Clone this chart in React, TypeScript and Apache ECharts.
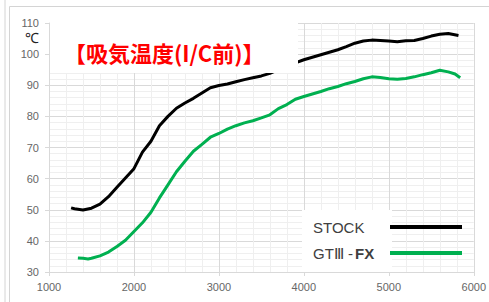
import React, { useEffect, useRef } from "react";
import * as echarts from "echarts";

const stockRpm = [1260, 1300, 1400, 1500, 1600, 1700, 1800, 1900, 2000, 2100, 2200, 2300, 2400, 2500, 2600, 2700, 2800, 2900, 3000, 3100, 3200, 3300, 3400, 3500, 3600, 3700, 3800, 3900, 4000, 4100, 4200, 4300, 4400, 4500, 4600, 4700, 4800, 4900, 5000, 5100, 5200, 5300, 5400, 5500, 5600, 5700, 5820];
const stockTemp = [50.6, 50.3, 49.9, 50.5, 51.8, 54.2, 57.2, 60.2, 63.2, 68.5, 72.0, 77.0, 80.0, 82.6, 84.3, 85.8, 87.5, 89.2, 89.9, 90.4, 91.1, 91.8, 92.4, 93.0, 93.8, 95.0, 96.2, 97.2, 98.2, 99.0, 99.8, 100.6, 101.4, 102.4, 103.5, 104.2, 104.5, 104.4, 104.2, 104.0, 104.3, 104.4, 105.0, 105.8, 106.4, 106.6, 106.0];

const gtRpm = [1340, 1400, 1460, 1500, 1600, 1700, 1800, 1900, 2000, 2100, 2200, 2300, 2400, 2500, 2600, 2700, 2800, 2900, 3000, 3100, 3200, 3300, 3400, 3500, 3600, 3700, 3800, 3900, 4000, 4100, 4200, 4300, 4400, 4500, 4600, 4700, 4800, 4900, 5000, 5100, 5200, 5300, 5400, 5500, 5600, 5700, 5780, 5840];
const gtTemp = [34.5, 34.4, 34.2, 34.4, 35.2, 36.4, 38.2, 40.2, 43.0, 45.8, 49.2, 53.8, 58.0, 62.2, 65.6, 68.8, 71.0, 73.3, 74.5, 75.9, 77.0, 77.9, 78.6, 79.5, 80.5, 82.5, 83.8, 85.5, 86.4, 87.2, 88.0, 88.9, 89.6, 90.5, 91.2, 92.1, 92.7, 92.5, 92.1, 91.9, 92.2, 92.7, 93.4, 94.0, 94.8, 94.3, 93.6, 92.4];

const seriesNames = ["STOCK", "GTⅢ-FX"];
const titleText = "【吸気温度(I/C前)】";
const unitText = "℃";

export default function App() {
  const ref = useRef<HTMLDivElement>(null);
  useEffect(() => {
    document.body.style.margin = "0";
    const chart = echarts.init(ref.current!, undefined, { renderer: "svg" });
    const labelFont = "'Liberation Sans', Arial, sans-serif";
    const legendText = { fontSize: 15, color: "#404040", fontFamily: labelFont, lineHeight: 18, align: "left" };
    chart.setOption({
      animation: false,
      backgroundColor: "#ffffff",
      title: {
        text: titleText,
        left: 59,
        top: 36,
        z: 100,
        textStyle: {
          color: "#ff0000",
          fontSize: 22,
          fontWeight: "bold",
          fontFamily: "'Noto Sans CJK JP', sans-serif",
        },
      },
      legend: {
        data: seriesNames,
        orient: "vertical",
        align: "right",
        left: 313,
        top: 218,
        padding: 0,
        itemGap: 8,
        itemWidth: 72,
        itemHeight: 4,
        icon: "rect",
        z: 100,
        formatter: (name: string) =>
          name === "STOCK" ? "{s|STOCK}" : "{g|GTⅢ -}{b|FX}",
        textStyle: {
          lineHeight: 18,
          rich: {
            s: { ...legendText, width: 72 },
            g: { ...legendText, width: 42 },
            b: { ...legendText, width: 30, fontWeight: "bold" },
          },
        },
      },
      grid: { left: 49, right: 10, top: 23, bottom: 30 },
      xAxis: {
        type: "value",
        min: 1000,
        max: 6000,
        interval: 1000,
        axisLine: { show: true, lineStyle: { color: "#d9d9d9", width: 1 } },
        axisTick: { show: true, length: 4, lineStyle: { color: "#d9d9d9" } },
        axisLabel: {
          color: "#666666",
          fontSize: 11,
          fontFamily: labelFont,
          margin: 9,
          formatter: (v: number) => String(v),
        },
        splitLine: { show: true, lineStyle: { color: "#d9d9d9", width: 1 } },
        minorTick: { show: false, splitNumber: 5 },
        minorSplitLine: { show: true, lineStyle: { color: "#efefef", width: 1 } },
      },
      yAxis: {
        type: "value",
        min: 30,
        max: 110,
        interval: 10,
        axisLine: { show: true, lineStyle: { color: "#d9d9d9", width: 1 } },
        axisTick: { show: true, length: 4, lineStyle: { color: "#d9d9d9" } },
        axisLabel: {
          color: "#666666",
          fontSize: 11,
          fontFamily: labelFont,
          margin: 10,
          formatter: (v: number) => String(v),
        },
        splitLine: { show: true, lineStyle: { color: "#d9d9d9", width: 1 } },
        minorTick: { show: false, splitNumber: 5 },
        minorSplitLine: { show: true, lineStyle: { color: "#efefef", width: 1 } },
      },
      graphic: [
        { type: "line", z: 0, shape: { x1: 5, y1: 0, x2: 5, y2: 302 }, style: { stroke: "#d4d4d4", lineWidth: 1 } },
        { type: "rect", z: 0, shape: { x: 9.5, y: 6.5, width: 500, height: 320 }, style: { fill: "none", stroke: "#d4d4d4", lineWidth: 1 } },
        { type: "rect", z: 50, shape: { x: 50, y: 18, width: 248, height: 55 }, style: { fill: "#ffffff" } },
        { type: "rect", z: 50, shape: { x: 302, y: 210, width: 90, height: 62 }, style: { fill: "#ffffff" } },
        {
          type: "text",
          z: 100,
          x: 25,
          y: 31,
          style: { text: unitText, fontSize: 14, fill: "#222222", fontFamily: labelFont },
        },
      ],
      series: [
        {
          name: seriesNames[0],
          type: "line",
          data: stockRpm.map((r, i) => [r, stockTemp[i]]),
          showSymbol: false,
          symbol: "none",
          lineStyle: { color: "#000000", width: 3 },
          itemStyle: { color: "#000000" },
          z: 3,
        },
        {
          name: seriesNames[1],
          type: "line",
          data: gtRpm.map((r, i) => [r, gtTemp[i]]),
          showSymbol: false,
          symbol: "none",
          lineStyle: { color: "#00b050", width: 3 },
          itemStyle: { color: "#00b050" },
          z: 3,
        },
      ],
    });
    return () => chart.dispose();
  }, []);
  return (
    <div
      ref={ref}
      style={{ position: "fixed", left: 0, top: 0, width: 489, height: 302 }}
    />
  );
}
